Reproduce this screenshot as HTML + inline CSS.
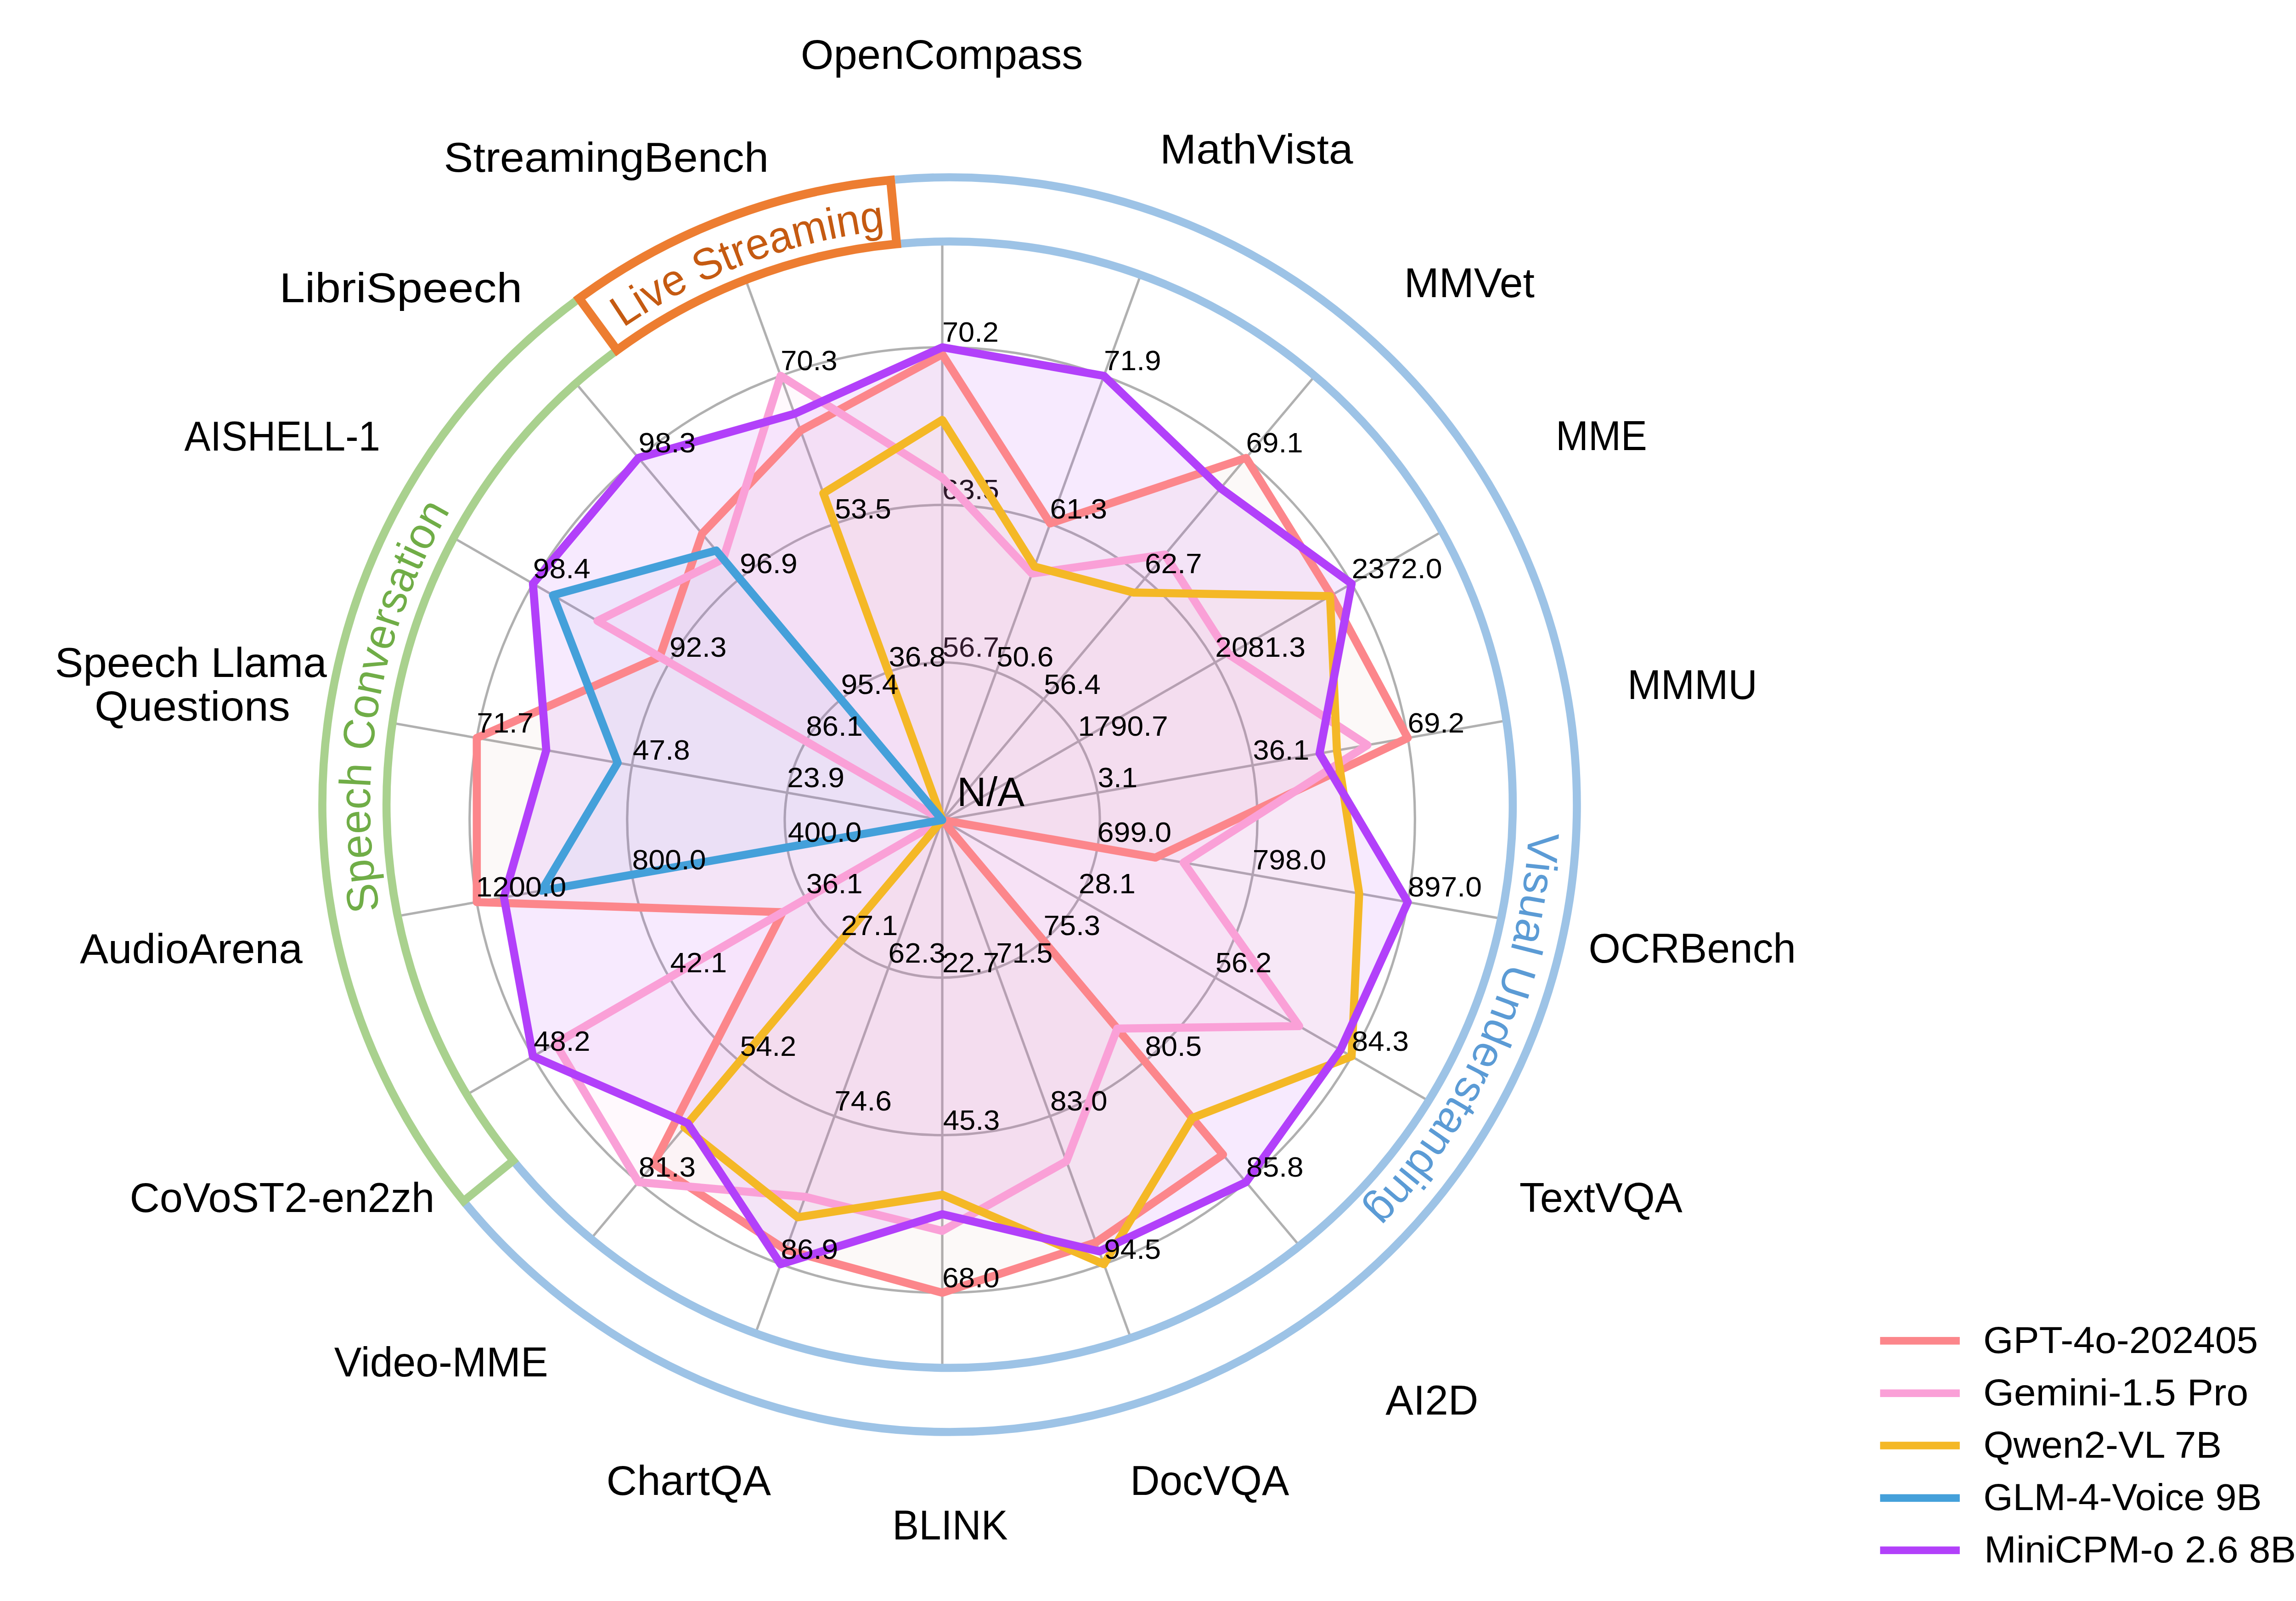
<!DOCTYPE html>
<html><head><meta charset="utf-8"><title>radar</title>
<style>
html,body{margin:0;padding:0;background:#fff;}
svg{display:block;}
text{font-family:"Liberation Sans",sans-serif;}
</style></head><body>
<svg width="5100" height="3486" viewBox="0 0 5100 3486">
<rect width="5100" height="3486" fill="#fff"/>
<defs><clipPath id="inring"><circle cx="2068.0" cy="1752.0" r="1226.3"/></clipPath></defs>
<g stroke="#b0b0b0" stroke-width="5.2" fill="none">
<circle cx="2052.0" cy="1785.5" r="343.1"/>
<circle cx="2052.0" cy="1785.5" r="686.2"/>
<circle cx="2052.0" cy="1785.5" r="1029.3"/>
<g clip-path="url(#inring)">
<line x1="2052.0" y1="1785.5" x2="2052.0" y2="385.5"/>
<line x1="2052.0" y1="1785.5" x2="2530.8" y2="469.9"/>
<line x1="2052.0" y1="1785.5" x2="2951.9" y2="713.0"/>
<line x1="2052.0" y1="1785.5" x2="3264.4" y2="1085.5"/>
<line x1="2052.0" y1="1785.5" x2="3430.7" y2="1542.4"/>
<line x1="2052.0" y1="1785.5" x2="3430.7" y2="2028.6"/>
<line x1="2052.0" y1="1785.5" x2="3264.4" y2="2485.5"/>
<line x1="2052.0" y1="1785.5" x2="2951.9" y2="2858.0"/>
<line x1="2052.0" y1="1785.5" x2="2530.8" y2="3101.1"/>
<line x1="2052.0" y1="1785.5" x2="2052.0" y2="3185.5"/>
<line x1="2052.0" y1="1785.5" x2="1573.2" y2="3101.1"/>
<line x1="2052.0" y1="1785.5" x2="1152.1" y2="2858.0"/>
<line x1="2052.0" y1="1785.5" x2="839.6" y2="2485.5"/>
<line x1="2052.0" y1="1785.5" x2="673.3" y2="2028.6"/>
<line x1="2052.0" y1="1785.5" x2="673.3" y2="1542.4"/>
<line x1="2052.0" y1="1785.5" x2="839.6" y2="1085.5"/>
<line x1="2052.0" y1="1785.5" x2="1152.1" y2="713.0"/>
<line x1="2052.0" y1="1785.5" x2="1573.2" y2="469.9"/>
</g></g>
<text x="2052.7" y="1430.4" font-size="60.5" textLength="123.4" lengthAdjust="spacingAndGlyphs" fill="#000">56.7</text>
<text x="2052.0" y="1087.3" font-size="60.5" textLength="123.9" lengthAdjust="spacingAndGlyphs" fill="#000">63.5</text>
<text x="2052.0" y="744.2" font-size="60.5" textLength="122.9" lengthAdjust="spacingAndGlyphs" fill="#000">70.2</text>
<polygon points="2052.0,771.5 2287.1,1139.7 2713.6,997.0 2899.1,1296.4 3065.7,1606.8 2516.2,1867.3 2052.0,1785.5 2663.4,2514.1 2386.7,2705.1 2052.0,2814.8 1711.4,2721.3 1423.7,2534.2 1704.3,1986.3 1038.3,1964.2 1038.3,1606.8 1436.7,1430.3 1528.9,1162.0 1743.4,937.5" fill="#C89682" fill-opacity="0.06" stroke="none"/>
<polygon points="2052.0,1040.0 2247.3,1248.8 2537.0,1207.5 2676.2,1425.1 2977.8,1622.3 2577.6,1878.2 2829.2,2234.2 2433.1,2239.6 2322.4,2528.4 2052.0,2680.1 1753.4,2605.9 1390.4,2574.0 1209.6,2271.9 2052.0,1785.5 2052.0,1785.5 1301.1,1352.0 1575.0,1217.1 1700.0,818.3" fill="#FAA0D7" fill-opacity="0.06" stroke="none"/>
<polygon points="2052.0,914.2 2252.9,1233.7 2467.7,1290.1 2896.4,1298.0 2911.4,1634.0 2959.9,1945.6 2943.4,2300.1 2596.4,2434.3 2404.0,2752.7 2052.0,2601.4 1737.2,2650.5 1490.5,2454.7 2052.0,1785.5 2052.0,1785.5 2052.0,1785.5 2052.0,1785.5 2052.0,1785.5 1793.0,1074.0" fill="#F4B826" fill-opacity="0.03" stroke="none"/>
<polygon points="2052.0,1785.5 2052.0,1785.5 2052.0,1785.5 2052.0,1785.5 2052.0,1785.5 2052.0,1785.5 2052.0,1785.5 2052.0,1785.5 2052.0,1785.5 2052.0,1785.5 2052.0,1785.5 2052.0,1785.5 2052.0,1785.5 1179.4,1939.4 1345.1,1660.9 1204.2,1296.0 1559.6,1198.7 2052.0,1785.5" fill="#44A0DA" fill-opacity="0.05" stroke="none"/>
<polygon points="2052.0,756.2 2404.0,818.3 2658.2,1063.1 2943.4,1270.9 2873.6,1640.6 3065.7,1964.2 2919.1,2286.1 2713.6,2574.0 2393.8,2724.7 2052.0,2643.8 1700.0,2752.7 1497.8,2446.0 1160.6,2300.1 1097.5,1953.8 1189.6,1633.4 1160.6,1270.8 1390.4,997.0 1730.1,901.0" fill="#B240FA" fill-opacity="0.11" stroke="none"/>
<polygon points="2052.0,771.5 2287.1,1139.7 2713.6,997.0 2899.1,1296.4 3065.7,1606.8 2516.2,1867.3 2052.0,1785.5 2663.4,2514.1 2386.7,2705.1 2052.0,2814.8 1711.4,2721.3 1423.7,2534.2 1704.3,1986.3 1038.3,1964.2 1038.3,1606.8 1436.7,1430.3 1528.9,1162.0 1743.4,937.5" fill="none" stroke="#FC868B" stroke-width="17.6" stroke-linejoin="round"/>
<polygon points="2052.0,1040.0 2247.3,1248.8 2537.0,1207.5 2676.2,1425.1 2977.8,1622.3 2577.6,1878.2 2829.2,2234.2 2433.1,2239.6 2322.4,2528.4 2052.0,2680.1 1753.4,2605.9 1390.4,2574.0 1209.6,2271.9 2052.0,1785.5 2052.0,1785.5 1301.1,1352.0 1575.0,1217.1 1700.0,818.3" fill="none" stroke="#FAA0D7" stroke-width="17.6" stroke-linejoin="round"/>
<polygon points="2052.0,914.2 2252.9,1233.7 2467.7,1290.1 2896.4,1298.0 2911.4,1634.0 2959.9,1945.6 2943.4,2300.1 2596.4,2434.3 2404.0,2752.7 2052.0,2601.4 1737.2,2650.5 1490.5,2454.7 2052.0,1785.5 2052.0,1785.5 2052.0,1785.5 2052.0,1785.5 2052.0,1785.5 1793.0,1074.0" fill="none" stroke="#F4B826" stroke-width="17.6" stroke-linejoin="round"/>
<polygon points="2052.0,1785.5 2052.0,1785.5 2052.0,1785.5 2052.0,1785.5 2052.0,1785.5 2052.0,1785.5 2052.0,1785.5 2052.0,1785.5 2052.0,1785.5 2052.0,1785.5 2052.0,1785.5 2052.0,1785.5 2052.0,1785.5 1179.4,1939.4 1345.1,1660.9 1204.2,1296.0 1559.6,1198.7 2052.0,1785.5" fill="none" stroke="#44A0DA" stroke-width="17.6" stroke-linejoin="round"/>
<polygon points="2052.0,756.2 2404.0,818.3 2658.2,1063.1 2943.4,1270.9 2873.6,1640.6 3065.7,1964.2 2919.1,2286.1 2713.6,2574.0 2393.8,2724.7 2052.0,2643.8 1700.0,2752.7 1497.8,2446.0 1160.6,2300.1 1097.5,1953.8 1189.6,1633.4 1160.6,1270.8 1390.4,997.0 1730.1,901.0" fill="none" stroke="#B240FA" stroke-width="17.6" stroke-linejoin="round"/>
<g>
<text x="2170.0" y="1451.1" font-size="60.5" textLength="124.3" lengthAdjust="spacingAndGlyphs" fill="#000">50.6</text>
<text x="2286.6" y="1128.7" font-size="60.5" textLength="124.4" lengthAdjust="spacingAndGlyphs" fill="#000">61.3</text>
<text x="2404.0" y="806.3" font-size="60.5" textLength="124.5" lengthAdjust="spacingAndGlyphs" fill="#000">71.9</text>
<text x="2273.2" y="1510.7" font-size="60.5" textLength="123.7" lengthAdjust="spacingAndGlyphs" fill="#000">56.4</text>
<text x="2493.0" y="1247.8" font-size="60.5" textLength="124.5" lengthAdjust="spacingAndGlyphs" fill="#000">62.7</text>
<text x="2713.6" y="985.0" font-size="60.5" textLength="124.0" lengthAdjust="spacingAndGlyphs" fill="#000">69.1</text>
<text x="2347.4" y="1602.0" font-size="60.5" textLength="196.4" lengthAdjust="spacingAndGlyphs" fill="#000">1790.7</text>
<text x="2646.2" y="1430.4" font-size="60.5" textLength="196.8" lengthAdjust="spacingAndGlyphs" fill="#000">2081.3</text>
<text x="2943.4" y="1258.9" font-size="60.5" textLength="197.2" lengthAdjust="spacingAndGlyphs" fill="#000">2372.0</text>
<text x="2390.7" y="1713.9" font-size="60.5" textLength="86.5" lengthAdjust="spacingAndGlyphs" fill="#000">3.1</text>
<text x="2728.6" y="1654.3" font-size="60.5" textLength="122.8" lengthAdjust="spacingAndGlyphs" fill="#000">36.1</text>
<text x="3065.6" y="1594.8" font-size="60.5" textLength="123.6" lengthAdjust="spacingAndGlyphs" fill="#000">69.2</text>
<text x="2389.8" y="1833.1" font-size="60.5" textLength="161.2" lengthAdjust="spacingAndGlyphs" fill="#000">699.0</text>
<text x="2727.7" y="1892.7" font-size="60.5" textLength="160.5" lengthAdjust="spacingAndGlyphs" fill="#000">798.0</text>
<text x="3066.1" y="1952.2" font-size="60.5" textLength="160.8" lengthAdjust="spacingAndGlyphs" fill="#000">897.0</text>
<text x="2349.1" y="1945.0" font-size="60.5" textLength="123.8" lengthAdjust="spacingAndGlyphs" fill="#000">28.1</text>
<text x="2646.9" y="2116.6" font-size="60.5" textLength="122.5" lengthAdjust="spacingAndGlyphs" fill="#000">56.2</text>
<text x="2943.8" y="2288.1" font-size="60.5" textLength="124.1" lengthAdjust="spacingAndGlyphs" fill="#000">84.3</text>
<text x="2272.5" y="2036.3" font-size="60.5" textLength="123.7" lengthAdjust="spacingAndGlyphs" fill="#000">75.3</text>
<text x="2493.5" y="2299.2" font-size="60.5" textLength="123.5" lengthAdjust="spacingAndGlyphs" fill="#000">80.5</text>
<text x="2714.0" y="2562.0" font-size="60.5" textLength="124.7" lengthAdjust="spacingAndGlyphs" fill="#000">85.8</text>
<text x="2169.3" y="2095.9" font-size="60.5" textLength="123.2" lengthAdjust="spacingAndGlyphs" fill="#000">71.5</text>
<text x="2287.1" y="2418.3" font-size="60.5" textLength="124.5" lengthAdjust="spacingAndGlyphs" fill="#000">83.0</text>
<text x="2404.3" y="2740.7" font-size="60.5" textLength="124.0" lengthAdjust="spacingAndGlyphs" fill="#000">94.5</text>
<text x="2052.0" y="2116.6" font-size="60.5" textLength="124.3" lengthAdjust="spacingAndGlyphs" fill="#000">22.7</text>
<text x="2053.7" y="2459.7" font-size="60.5" textLength="123.8" lengthAdjust="spacingAndGlyphs" fill="#000">45.3</text>
<text x="2051.9" y="2802.8" font-size="60.5" textLength="124.9" lengthAdjust="spacingAndGlyphs" fill="#000">68.0</text>
<text x="1934.6" y="2095.9" font-size="60.5" textLength="124.4" lengthAdjust="spacingAndGlyphs" fill="#000">62.3</text>
<text x="1817.2" y="2418.3" font-size="60.5" textLength="124.8" lengthAdjust="spacingAndGlyphs" fill="#000">74.6</text>
<text x="1700.4" y="2740.7" font-size="60.5" textLength="124.9" lengthAdjust="spacingAndGlyphs" fill="#000">86.9</text>
<text x="1831.5" y="2036.3" font-size="60.5" textLength="123.8" lengthAdjust="spacingAndGlyphs" fill="#000">27.1</text>
<text x="1611.6" y="2299.2" font-size="60.5" textLength="122.5" lengthAdjust="spacingAndGlyphs" fill="#000">54.2</text>
<text x="1390.8" y="2562.0" font-size="60.5" textLength="124.1" lengthAdjust="spacingAndGlyphs" fill="#000">81.3</text>
<text x="1755.7" y="1945.0" font-size="60.5" textLength="122.8" lengthAdjust="spacingAndGlyphs" fill="#000">36.1</text>
<text x="1459.5" y="2116.6" font-size="60.5" textLength="123.4" lengthAdjust="spacingAndGlyphs" fill="#000">42.1</text>
<text x="1162.3" y="2288.1" font-size="60.5" textLength="123.1" lengthAdjust="spacingAndGlyphs" fill="#000">48.2</text>
<text x="1715.8" y="1833.1" font-size="60.5" textLength="160.6" lengthAdjust="spacingAndGlyphs" fill="#000">400.0</text>
<text x="1376.6" y="1892.7" font-size="60.5" textLength="160.8" lengthAdjust="spacingAndGlyphs" fill="#000">800.0</text>
<text x="1036.6" y="1952.2" font-size="60.5" textLength="196.8" lengthAdjust="spacingAndGlyphs" fill="#000">1200.0</text>
<text x="1714.1" y="1713.9" font-size="60.5" textLength="125.0" lengthAdjust="spacingAndGlyphs" fill="#000">23.9</text>
<text x="1378.0" y="1654.3" font-size="60.5" textLength="124.5" lengthAdjust="spacingAndGlyphs" fill="#000">47.8</text>
<text x="1038.3" y="1594.8" font-size="60.5" textLength="123.8" lengthAdjust="spacingAndGlyphs" fill="#000">71.7</text>
<text x="1755.3" y="1602.0" font-size="60.5" textLength="123.6" lengthAdjust="spacingAndGlyphs" fill="#000">86.1</text>
<text x="1457.9" y="1430.4" font-size="60.5" textLength="124.6" lengthAdjust="spacingAndGlyphs" fill="#000">92.3</text>
<text x="1160.8" y="1258.8" font-size="60.5" textLength="125.0" lengthAdjust="spacingAndGlyphs" fill="#000">98.4</text>
<text x="1831.6" y="1510.7" font-size="60.5" textLength="125.0" lengthAdjust="spacingAndGlyphs" fill="#000">95.4</text>
<text x="1611.1" y="1247.8" font-size="60.5" textLength="125.4" lengthAdjust="spacingAndGlyphs" fill="#000">96.9</text>
<text x="1390.6" y="985.0" font-size="60.5" textLength="124.6" lengthAdjust="spacingAndGlyphs" fill="#000">98.3</text>
<text x="1935.4" y="1451.1" font-size="60.5" textLength="123.9" lengthAdjust="spacingAndGlyphs" fill="#000">36.8</text>
<text x="1818.0" y="1128.7" font-size="60.5" textLength="122.7" lengthAdjust="spacingAndGlyphs" fill="#000">53.5</text>
<text x="1699.9" y="806.3" font-size="60.5" textLength="123.7" lengthAdjust="spacingAndGlyphs" fill="#000">70.3</text>
</g>
<g>
<text x="1743.8" y="149.8" font-size="90.8" textLength="614.6" lengthAdjust="spacingAndGlyphs" fill="#000">OpenCompass</text>
<text x="2526.0" y="355.5" font-size="90.8" textLength="420.7" lengthAdjust="spacingAndGlyphs" fill="#000">MathVista</text>
<text x="3057.8" y="646.5" font-size="90.8" textLength="284.0" lengthAdjust="spacingAndGlyphs" fill="#000">MMVet</text>
<text x="3388.1" y="980.3" font-size="90.8" textLength="198.7" lengthAdjust="spacingAndGlyphs" fill="#000">MME</text>
<text x="3543.9" y="1521.8" font-size="90.8" textLength="283.1" lengthAdjust="spacingAndGlyphs" fill="#000">MMMU</text>
<text x="3459.5" y="2096.4" font-size="90.8" textLength="451.5" lengthAdjust="spacingAndGlyphs" fill="#000">OCRBench</text>
<text x="3308.7" y="2639.1" font-size="90.8" textLength="355.1" lengthAdjust="spacingAndGlyphs" fill="#000">TextVQA</text>
<text x="3017.3" y="3080.0" font-size="90.8" textLength="202.0" lengthAdjust="spacingAndGlyphs" fill="#000">AI2D</text>
<text x="2461.2" y="3254.7" font-size="90.8" textLength="346.3" lengthAdjust="spacingAndGlyphs" fill="#000">DocVQA</text>
<text x="1943.2" y="3352.1" font-size="90.8" textLength="251.5" lengthAdjust="spacingAndGlyphs" fill="#000">BLINK</text>
<text x="1320.6" y="3254.7" font-size="90.8" textLength="358.4" lengthAdjust="spacingAndGlyphs" fill="#000">ChartQA</text>
<text x="727.7" y="2996.7" font-size="90.8" textLength="465.9" lengthAdjust="spacingAndGlyphs" fill="#000">Video-MME</text>
<text x="282.5" y="2638.8" font-size="90.8" textLength="663.9" lengthAdjust="spacingAndGlyphs" fill="#000">CoVoST2-en2zh</text>
<text x="174.0" y="2096.8" font-size="90.8" textLength="484.8" lengthAdjust="spacingAndGlyphs" fill="#000">AudioArena</text>
<text x="119.6" y="1473.5" font-size="90.8" textLength="592.1" lengthAdjust="spacingAndGlyphs" fill="#000">Speech Llama</text>
<text x="206.0" y="1568.6" font-size="90.8" textLength="425.9" lengthAdjust="spacingAndGlyphs" fill="#000">Questions</text>
<text x="401.4" y="980.7" font-size="90.8" textLength="426.6" lengthAdjust="spacingAndGlyphs" fill="#000">AISHELL-1</text>
<text x="608.4" y="657.8" font-size="90.8" textLength="528.7" lengthAdjust="spacingAndGlyphs" fill="#000">LibriSpeech</text>
<text x="966.6" y="374.0" font-size="90.8" textLength="707.3" lengthAdjust="spacingAndGlyphs" fill="#000">StreamingBench</text>
<text x="2084.0" y="1755.1" font-size="89.4" textLength="147.0" lengthAdjust="spacingAndGlyphs" fill="#000">N/A</text>
</g>
<g fill="none" stroke="#9DC3E6" stroke-width="17.6">
<path d="M1961.1,530.4 A1226.3,1226.3 0 1 1 1117.7,2527.1"/>
<path d="M1948.9,391.2 A1366.0,1366.0 0 1 1 1009.4,2615.4"/>
</g>
<path d="M1009.4,2615.4 A1366.0,1366.0 0 0 1 1265.1,646.9 L1347.2,759.9 A1226.3,1226.3 0 0 0 1117.7,2527.1 Z" fill="none" stroke="#A9D18E" stroke-width="17.6" stroke-linejoin="miter"/>
<path d="M1261.2,649.7 A1366.0,1366.0 0 0 1 1939.4,392.1 L1952.6,531.1 A1226.3,1226.3 0 0 0 1343.7,762.4 Z" fill="#fff" stroke="#ED7D31" stroke-width="19" stroke-linejoin="miter"/>
<defs>
<path id="pLS" d="M1357.3,714.0 A1258.0,1258.0 0 0 1 1927.8,501.8" fill="none"/>
<path id="pSC" d="M827.1,1982.0 A1262.0,1262.0 0 0 1 980.6,1111.5" fill="none"/>
<path id="pVU" d="M3328.6,1811.4 A1262.0,1262.0 0 0 1 2971.2,2633.4" fill="none"/>
</defs>
<text font-size="96" fill="#C55A11"><textPath href="#pLS" textLength="614.8" lengthAdjust="spacingAndGlyphs">Live Streaming</textPath></text>
<text font-size="96" fill="#70AD47"><textPath href="#pSC" textLength="903.1" lengthAdjust="spacingAndGlyphs">Speech Conversation</textPath></text>
<text font-size="96" fill="#5B9BD5"><textPath href="#pVU" textLength="916.3" lengthAdjust="spacingAndGlyphs">Visual Understanding</textPath></text>
<rect x="4094.3" y="2911.1" width="173.5" height="16.6" fill="#FC868B"/>
<text x="4319.1" y="2946.2" font-size="82.0" textLength="598.3" lengthAdjust="spacingAndGlyphs" fill="#000">GPT-4o-202405</text>
<rect x="4094.3" y="3025.3" width="173.5" height="16.6" fill="#FAA0D7"/>
<text x="4319.0" y="3060.1" font-size="82.0" textLength="577.2" lengthAdjust="spacingAndGlyphs" fill="#000">Gemini-1.5 Pro</text>
<rect x="4094.3" y="3139.2" width="173.5" height="16.6" fill="#F4B826"/>
<text x="4319.4" y="3174.0" font-size="82.0" textLength="518.9" lengthAdjust="spacingAndGlyphs" fill="#000">Qwen2-VL 7B</text>
<rect x="4094.3" y="3253.5" width="173.5" height="16.6" fill="#44A0DA"/>
<text x="4319.2" y="3288.3" font-size="82.0" textLength="606.3" lengthAdjust="spacingAndGlyphs" fill="#000">GLM-4-Voice 9B</text>
<rect x="4094.3" y="3367.3" width="173.5" height="16.6" fill="#B240FA"/>
<text x="4321.0" y="3402.1" font-size="82.0" textLength="679.1" lengthAdjust="spacingAndGlyphs" fill="#000">MiniCPM-o 2.6 8B</text>
</svg></body></html>
